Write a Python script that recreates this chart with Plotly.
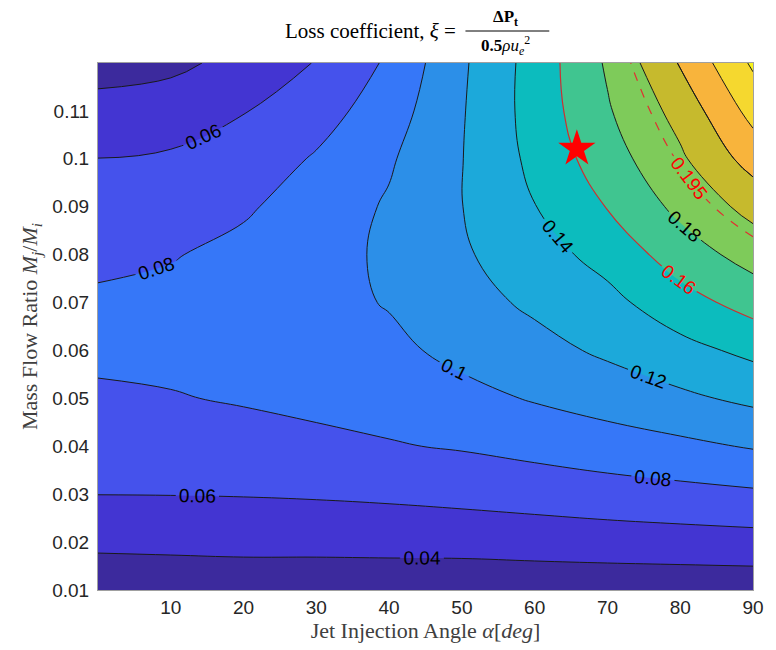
import plotly.graph_objects as go

# Jet injection angle (deg) and mass flow ratio M_j/M_i grid
angle_deg = [0, 10, 20, 30, 40, 50, 60, 70, 80, 90]
mass_flow_ratio = [0.01, 0.02, 0.03, 0.04, 0.05, 0.06, 0.07, 0.08, 0.09, 0.10, 0.11, 0.12]

# Loss coefficient xi, one row per mass flow ratio, one column per angle
loss_coeff = [
    [0.0272, 0.0281, 0.0288, 0.0282, 0.0279, 0.0267, 0.0271, 0.0271, 0.0271, 0.0274],
    [0.0438, 0.0444, 0.0451, 0.0454, 0.0460, 0.0469, 0.0484, 0.0500, 0.0514, 0.0527],
    [0.0602, 0.0604, 0.0609, 0.0619, 0.0635, 0.0658, 0.0685, 0.0715, 0.0741, 0.0769],
    [0.0690, 0.0696, 0.0716, 0.0749, 0.0787, 0.0816, 0.0860, 0.0908, 0.0956, 0.1015],
    [0.0775, 0.0788, 0.0818, 0.0852, 0.0872, 0.0942, 0.1015, 0.1084, 0.1162, 0.1242],
    [0.0834, 0.0852, 0.0877, 0.0912, 0.0955, 0.1052, 0.1135, 0.1234, 0.1337, 0.1448],
    [0.0828, 0.0852, 0.0889, 0.0938, 0.1012, 0.1126, 0.1236, 0.1343, 0.1520, 0.1678],
    [0.0760, 0.0788, 0.0853, 0.0932, 0.1030, 0.1175, 0.1316, 0.1470, 0.1697, 0.1881],
    [0.0681, 0.0707, 0.0774, 0.0892, 0.1021, 0.1197, 0.1395, 0.1608, 0.1852, 0.2065],
    [0.0602, 0.0625, 0.0683, 0.0819, 0.0977, 0.1195, 0.1450, 0.1710, 0.1968, 0.2282],
    [0.0464, 0.0500, 0.0592, 0.0716, 0.0904, 0.1185, 0.1480, 0.1780, 0.2070, 0.2467],
    [0.0325, 0.0355, 0.0460, 0.0610, 0.0830, 0.1170, 0.1480, 0.1825, 0.2215, 0.2630],
]

# Highlighted operating point and reference levels
opt_angle = [65.8]
opt_ratio = [0.1021]
level_solid = 0.16
level_dashed = 0.195

x_ticks = [10, 20, 30, 40, 50, 60, 70, 80, 90]
y_ticks = [0.01, 0.02, 0.03, 0.04, 0.05, 0.06, 0.07, 0.08, 0.09, 0.10, 0.11]
y_ticktext = ["0.01", "0.02", "0.03", "0.04", "0.05", "0.06", "0.07", "0.08", "0.09", "0.1", "0.11"]

# parula-like band colours, one per 0.02 band from 0.02 to 0.28
band_colors = ["#3c2a9d", "#4335d2", "#4552ec", "#3677f8", "#2c8fe8", "#1ca9da",
               "#0cbcbe", "#40c590", "#7ecb5a", "#c6ba2d", "#f8b43c", "#f5d82f", "#f8f31a"]
nb = len(band_colors)
stepped = []
for i, c in enumerate(band_colors):
    stepped.append([i / nb, c])
    stepped.append([(i + 1) / nb, c])

SMOOTH = 1.2
label_font = dict(family="Liberation Sans, Arial", size=19, color="black")

fig = go.Figure()

# filled bands
fig.add_trace(go.Contour(
    x=angle_deg, y=mass_flow_ratio, z=loss_coeff,
    colorscale=stepped, zmin=0.02, zmax=0.28, showscale=False,
    contours=dict(start=0.04, end=0.26, size=0.02, coloring="fill", showlines=False),
    line=dict(width=0, smoothing=SMOOTH), hoverinfo="skip",
))

# unlabelled black iso-lines (upper range)
fig.add_trace(go.Contour(
    x=angle_deg, y=mass_flow_ratio, z=loss_coeff, showscale=False,
    contours=dict(start=0.20, end=0.26, size=0.02, coloring="none"),
    line=dict(color="#1a1a1a", width=1, smoothing=SMOOTH), hoverinfo="skip",
))

# labelled black iso-lines
for lo, hi in [(0.04, 0.14), (0.18, 0.18), (0.22, 0.22)]:
    fig.add_trace(go.Contour(
        x=angle_deg, y=mass_flow_ratio, z=loss_coeff, showscale=False,
        contours=dict(start=lo, end=hi, size=0.02, coloring="none",
                      showlabels=True, labelfont=label_font, labelformat=".3~g"),
        line=dict(color="#1a1a1a", width=1, smoothing=SMOOTH), hoverinfo="skip",
    ))

# red reference iso-lines
fig.add_trace(go.Contour(
    x=angle_deg, y=mass_flow_ratio, z=loss_coeff, showscale=False,
    contours=dict(start=level_solid, end=level_solid, size=0.01, coloring="none",
                  showlabels=True, labelfont=dict(label_font, color="red"), labelformat=".3~g"),
    line=dict(color="#cc3030", width=1.2, smoothing=SMOOTH), hoverinfo="skip",
))
fig.add_trace(go.Contour(
    x=angle_deg, y=mass_flow_ratio, z=loss_coeff, showscale=False,
    contours=dict(start=level_dashed, end=level_dashed, size=0.01, coloring="none",
                  showlabels=True, labelfont=dict(label_font, color="red"), labelformat=".3~g"),
    line=dict(color="#e03030", width=1.2, dash="dash", smoothing=SMOOTH), hoverinfo="skip",
))

# operating point
fig.add_trace(go.Scatter(
    x=opt_angle, y=opt_ratio, mode="markers",
    marker=dict(symbol="star", size=28, color="red", line=dict(width=0)),
    hoverinfo="skip", showlegend=False,
))

serif = "Liberation Serif, Times New Roman, serif"
sans = "Liberation Sans, Arial, sans-serif"

fig.update_layout(
    width=776, height=650,
    margin=dict(l=98, r=13, t=63, b=60),
    paper_bgcolor="white", plot_bgcolor="white",
    showlegend=False,
    xaxis=dict(range=[0, 90], tickvals=x_ticks, showgrid=False, zeroline=False,
               showline=True, linecolor="#a0a0a0", linewidth=1, mirror=True, ticks="",
               tickfont=dict(family=sans, size=19, color="#262626"),
               title=dict(text="Jet Injection Angle <i>α</i>[<i>deg</i>]",
                          font=dict(family=serif, size=22, color="#404040"), standoff=2)),
    yaxis=dict(range=[0.01, 0.12], tickvals=y_ticks, ticktext=y_ticktext, showgrid=False,
               zeroline=False, showline=True, linecolor="#a0a0a0", linewidth=1, mirror=True,
               ticks="", ticklabelstandoff=4,
               tickfont=dict(family=sans, size=19, color="#262626"),
               title=dict(text="Mass Flow Ratio <i>M<sub>j</sub></i>/<i>M<sub>i</sub></i>",
                          font=dict(family=serif, size=22, color="#404040"), standoff=8)),
)

# title with a stacked fraction
fig.add_annotation(text="Loss coefficient, <i>ξ</i> =", xref="paper", yref="paper",
                   x=0.549, y=1.0607, xanchor="right", yanchor="middle", showarrow=False,
                   font=dict(family=serif, size=21, color="black"))
fig.add_annotation(text="<b>ΔP<sub>t</sub></b>", xref="paper", yref="paper",
                   x=0.6226, y=1.0854, xanchor="center", yanchor="middle", showarrow=False,
                   font=dict(family=serif, size=17, color="black"))
fig.add_annotation(text="<b>0.5</b><i>ρu<sub>e</sub></i><sup>2</sup>", xref="paper", yref="paper",
                   x=0.6226, y=1.034, xanchor="center", yanchor="middle", showarrow=False,
                   font=dict(family=serif, size=17, color="black"))
fig.add_shape(type="line", xref="paper", yref="paper", x0=0.561, x1=0.689,
              y0=1.0607, y1=1.0607, line=dict(color="black", width=1))

fig.write_html("out.html")
